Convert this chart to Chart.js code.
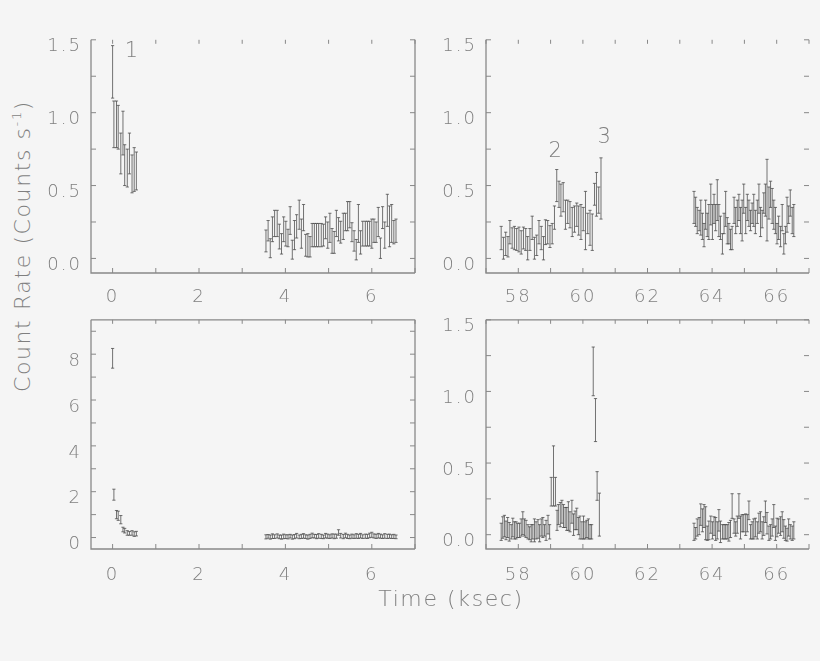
<!DOCTYPE html>
<html>
<head>
<meta charset="utf-8">
<script src="https://cdn.jsdelivr.net/npm/chart.js@4.4.1/dist/chart.umd.min.js"></script>
<style>
body{margin:0;background:#f5f5f5;width:820px;height:661px;overflow:hidden;position:relative;font-family:"DejaVu Sans",sans-serif;}
.panel{position:absolute}
.ttl{position:absolute;color:#7f7f7f;font-size:22px;font-weight:200;letter-spacing:1.6px;white-space:nowrap}
.ttl sup{font-size:13px}
</style>
</head>
<body>
<div class="panel" style="left:40px;top:20px;width:400px;height:290px"><canvas id="c1"></canvas></div>
<div class="panel" style="left:440px;top:20px;width:380px;height:290px"><canvas id="c2"></canvas></div>
<div class="panel" style="left:40px;top:300px;width:400px;height:290px"><canvas id="c3"></canvas></div>
<div class="panel" style="left:440px;top:300px;width:380px;height:290px"><canvas id="c4"></canvas></div>
<div class="ttl" style="left:22px;top:246px;transform:translate(-50%,-50%) rotate(-90deg)">Count Rate (Counts s<sup>-1</sup>)</div>
<div class="ttl" style="left:451px;top:598px;transform:translate(-50%,-50%)">Time (ksec)</div>
<script>
// tiempos (ksec)
var tEarly = [0.00, 0.03, 0.09, 0.13, 0.19, 0.24, 0.28, 0.34, 0.39, 0.45, 0.50, 0.55];
var tLate = [3.55, 3.60, 3.65, 3.70, 3.75, 3.81, 3.86, 3.91, 3.96, 4.01,
  4.06, 4.11, 4.16, 4.21, 4.26, 4.32, 4.37, 4.42, 4.47, 4.52,
  4.57, 4.62, 4.67, 4.72, 4.77, 4.83, 4.88, 4.93, 4.98, 5.03,
  5.08, 5.13, 5.18, 5.23, 5.28, 5.34, 5.39, 5.44, 5.49, 5.54,
  5.59, 5.64, 5.69, 5.74, 5.79, 5.85, 5.90, 5.95, 6.00, 6.05,
  6.10, 6.15, 6.20, 6.25, 6.30, 6.36, 6.41, 6.46, 6.51, 6.56];
var tTopC = [57.47, 57.54, 57.61, 57.68, 57.74, 57.81, 57.88, 57.95, 58.02, 58.09,
  58.16, 58.23, 58.29, 58.36, 58.43, 58.50, 58.57, 58.64, 58.71, 58.78,
  58.84, 58.91, 58.98, 59.05, 59.12, 59.19, 59.26, 59.32, 59.39, 59.46,
  59.53, 59.60, 59.67, 59.74, 59.81, 59.87, 59.94, 60.01, 60.08, 60.15,
  60.22, 60.29, 60.36, 60.42, 60.49, 60.56];
var tBotC = [57.47, 57.52, 57.57, 57.62, 57.67, 57.72, 57.78, 57.83, 57.88, 57.93,
  57.98, 58.04, 58.09, 58.14, 58.19, 58.24, 58.30, 58.35, 58.40, 58.45,
  58.50, 58.55, 58.61, 58.66, 58.71, 58.76, 58.81, 58.86, 58.92, 58.97,
  59.02, 59.09, 59.15, 59.20, 59.24, 59.30, 59.35, 59.40, 59.45, 59.50,
  59.55, 59.60, 59.66, 59.71, 59.76, 59.81, 59.86, 59.91, 59.97, 60.02,
  60.07, 60.12, 60.17, 60.22, 60.27, 60.32, 60.39, 60.44, 60.51];
var tD = [63.44, 63.49, 63.54, 63.60, 63.65, 63.70, 63.75, 63.80, 63.85, 63.90,
  63.96, 64.01, 64.06, 64.11, 64.16, 64.21, 64.26, 64.32, 64.37, 64.42,
  64.47, 64.52, 64.57, 64.62, 64.68, 64.73, 64.78, 64.83, 64.88, 64.93,
  64.98, 65.04, 65.09, 65.14, 65.19, 65.24, 65.29, 65.34, 65.40, 65.45,
  65.50, 65.55, 65.60, 65.65, 65.70, 65.76, 65.81, 65.86, 65.91, 65.96,
  66.01, 66.06, 66.12, 66.17, 66.22, 66.27, 66.32, 66.37, 66.42, 66.48, 66.53];

// marcas de los ejes
var xTicksIzq = [0, 2, 4, 6];
var xTicksDer = [58, 60, 62, 64, 66];
var yTicksRate = [0, 0.5, 1.0, 1.5];
var yTicksAlto = [0, 2, 4, 6, 8];

// panel superior
var rateTopEarly = [1.28, 0.92, 0.92, 0.90, 0.72, 0.86, 0.64, 0.62, 0.72, 0.58, 0.61, 0.60];
var errTopEarly = [0.18, 0.16, 0.16, 0.15, 0.14, 0.15, 0.14, 0.13, 0.14, 0.13, 0.15, 0.13];
var rateTopLate = [0.12, 0.19, 0.07, 0.20, 0.24, 0.24, 0.15, 0.10, 0.20, 0.17,
  0.14, 0.26, 0.06, 0.16, 0.22, 0.30, 0.17, 0.28, 0.09, 0.09,
  0.08, 0.16, 0.16, 0.16, 0.16, 0.16, 0.16, 0.21, 0.16, 0.21,
  0.12, 0.11, 0.24, 0.20, 0.18, 0.22, 0.25, 0.29, 0.30, 0.18,
  0.12, 0.06, 0.24, 0.11, 0.17, 0.17, 0.17, 0.17, 0.17, 0.19,
  0.18, 0.25, 0.07, 0.28, 0.16, 0.33, 0.22, 0.24, 0.18, 0.19];
var errTopLate = [0.075, 0.07, 0.065, 0.085, 0.09, 0.09, 0.085, 0.07, 0.085, 0.085,
  0.06, 0.095, 0.065, 0.10, 0.08, 0.10, 0.10, 0.09, 0.075, 0.08,
  0.07, 0.08, 0.08, 0.08, 0.08, 0.08, 0.075, 0.075, 0.09, 0.10,
  0.085, 0.075, 0.09, 0.08, 0.075, 0.09, 0.06, 0.10, 0.09, 0.065,
  0.07, 0.07, 0.13, 0.08, 0.085, 0.085, 0.085, 0.085, 0.10, 0.08,
  0.07, 0.10, 0.07, 0.075, 0.09, 0.11, 0.14, 0.13, 0.08, 0.08];
var rateTopC = [0.14, 0.07, 0.10, 0.08, 0.18, 0.14, 0.14, 0.13, 0.13, 0.11,
  0.14, 0.13, 0.07, 0.13, 0.21, 0.07, 0.09, 0.18, 0.14, 0.07,
  0.18, 0.18, 0.15, 0.17, 0.28, 0.50, 0.44, 0.40, 0.42, 0.30,
  0.32, 0.30, 0.25, 0.27, 0.30, 0.26, 0.25, 0.27, 0.26, 0.24,
  0.21, 0.18, 0.44, 0.44, 0.40, 0.48];
var errTopC = [0.08, 0.075, 0.08, 0.07, 0.08, 0.07, 0.08, 0.075, 0.085, 0.08,
  0.075, 0.075, 0.08, 0.075, 0.08, 0.075, 0.07, 0.08, 0.08, 0.08,
  0.085, 0.08, 0.075, 0.07, 0.08, 0.11, 0.09, 0.11, 0.10, 0.10,
  0.08, 0.09, 0.10, 0.09, 0.08, 0.10, 0.12, 0.08, 0.20, 0.07,
  0.12, 0.125, 0.075, 0.15, 0.09, 0.21];
var rateTopD = [0.35, 0.32, 0.26, 0.26, 0.28, 0.22, 0.16, 0.30, 0.23, 0.25,
  0.37, 0.25, 0.34, 0.28, 0.40, 0.26, 0.21, 0.10, 0.24, 0.34,
  0.19, 0.17, 0.13, 0.14, 0.33, 0.26, 0.31, 0.35, 0.26, 0.26,
  0.41, 0.26, 0.35, 0.31, 0.26, 0.31, 0.33, 0.25, 0.32, 0.41,
  0.25, 0.27, 0.38, 0.40, 0.40, 0.38, 0.44, 0.36, 0.30, 0.26,
  0.17, 0.21, 0.15, 0.28, 0.10, 0.16, 0.30, 0.30, 0.38, 0.26, 0.26];
var errTopD = [0.11, 0.10, 0.09, 0.07, 0.12, 0.09, 0.08, 0.10, 0.08, 0.12,
  0.14, 0.12, 0.10, 0.09, 0.14, 0.11, 0.08, 0.07, 0.07, 0.12,
  0.09, 0.07, 0.07, 0.08, 0.09, 0.09, 0.09, 0.09, 0.09, 0.14,
  0.10, 0.09, 0.09, 0.09, 0.07, 0.07, 0.11, 0.08, 0.08, 0.10,
  0.10, 0.06, 0.07, 0.11, 0.28, 0.11, 0.09, 0.12, 0.10, 0.09,
  0.07, 0.08, 0.07, 0.09, 0.07, 0.06, 0.12, 0.06, 0.09, 0.09, 0.11];

// panel inferior
var rateBotEarly = [7.82, 1.87, 1.00, 0.95, 0.78, 0.35, 0.30, 0.20, 0.18, 0.20, 0.15, 0.17];
var errBotEarly = [0.43, 0.24, 0.18, 0.20, 0.18, 0.10, 0.10, 0.10, 0.08, 0.10, 0.10, 0.10];
var rateBotLate = [0.03, 0.05, 0.02, 0.06, 0.04, 0.07, 0.03, 0.02, 0.05, 0.04,
  0.03, 0.06, 0.02, 0.04, 0.08, 0.03, 0.05, 0.07, 0.04, 0.02,
  0.05, 0.09, 0.06, 0.04, 0.07, 0.05, 0.03, 0.08, 0.06, 0.04,
  0.07, 0.05, 0.06, 0.22, 0.08, 0.04, 0.09, 0.05, 0.03, 0.06,
  0.04, 0.07, 0.05, 0.08, 0.04, 0.06, 0.05, 0.09, 0.12, 0.07,
  0.05, 0.08, 0.06, 0.04, 0.07, 0.05, 0.06, 0.04, 0.05, 0.03];
var errBotLate = [0.09, 0.08, 0.09, 0.10, 0.08, 0.09, 0.08, 0.09, 0.10, 0.08,
  0.09, 0.08, 0.09, 0.09, 0.10, 0.08, 0.09, 0.10, 0.08, 0.09,
  0.09, 0.10, 0.08, 0.09, 0.10, 0.09, 0.08, 0.10, 0.09, 0.08,
  0.09, 0.10, 0.09, 0.12, 0.10, 0.09, 0.10, 0.09, 0.08, 0.09,
  0.08, 0.10, 0.09, 0.10, 0.08, 0.09, 0.09, 0.10, 0.11, 0.09,
  0.09, 0.10, 0.09, 0.08, 0.10, 0.09, 0.09, 0.08, 0.09, 0.08];
var rateBotC = [0.02, 0.05, 0.06, 0.03, 0.05, 0.02, 0.02, 0.05, 0.03, 0.03,
  0.03, 0.03, 0.05, 0.08, 0.05, 0.04, 0.02, 0.01, 0.01, 0.02,
  0.03, 0.03, 0.04, 0.01, 0.05, 0.05, 0.03, 0.03, 0.07, 0.02,
  0.30, 0.41, 0.30, 0.10, 0.14, 0.14, 0.16, 0.13, 0.12, 0.11,
  0.13, 0.09, 0.16, 0.07, 0.10, 0.11, 0.06, 0.05, 0.03, 0.05,
  0.03, 0.04, 0.04, 0.02, 0.02, 1.14, 0.80, 0.34, 0.14];
var errBotC = [0.06, 0.075, 0.075, 0.065, 0.07, 0.065, 0.05, 0.065, 0.06, 0.06,
  0.05, 0.05, 0.06, 0.08, 0.06, 0.06, 0.05, 0.045, 0.06, 0.05,
  0.08, 0.06, 0.065, 0.06, 0.06, 0.07, 0.04, 0.07, 0.065, 0.05,
  0.10, 0.21, 0.10, 0.07, 0.07, 0.085, 0.08, 0.08, 0.07, 0.08,
  0.10, 0.07, 0.08, 0.075, 0.065, 0.075, 0.06, 0.08, 0.06, 0.08,
  0.06, 0.06, 0.07, 0.05, 0.05, 0.17, 0.15, 0.10, 0.15];
var rateBotD = [0.02, 0.01, 0.05, 0.06, 0.14, 0.10, 0.13, 0.08, 0.01, 0.03,
  0.07, 0.03, 0.06, 0.04, 0.03, 0.10, 0.02, 0.02, 0.02, 0.02,
  0.02, 0.02, 0.04, 0.20, 0.06, 0.04, 0.07, 0.20, 0.05, 0.08,
  0.08, 0.07, 0.08, 0.17, 0.02, 0.03, 0.04, 0.05, 0.03, 0.08,
  0.09, 0.03, 0.06, 0.16, 0.08, 0.01, 0.02, 0.05, 0.13, 0.01,
  0.05, 0.06, 0.06, 0.09, 0.04, 0.01, 0.00, 0.05, 0.02, 0.01, 0.03];
var errBotD = [0.06, 0.04, 0.06, 0.06, 0.075, 0.08, 0.08, 0.115, 0.05, 0.065,
  0.06, 0.06, 0.065, 0.08, 0.06, 0.075, 0.075, 0.05, 0.05, 0.05,
  0.05, 0.065, 0.06, 0.086, 0.05, 0.05, 0.06, 0.086, 0.08, 0.06,
  0.06, 0.075, 0.06, 0.065, 0.05, 0.06, 0.07, 0.065, 0.06, 0.07,
  0.07, 0.06, 0.065, 0.075, 0.075, 0.05, 0.05, 0.06, 0.08, 0.05,
  0.065, 0.05, 0.065, 0.07, 0.065, 0.05, 0.045, 0.06, 0.05, 0.05, 0.06];

// etiquetas de las fulguraciones
var flareLabels = ['1', '2', '3'];
var flareT = [0.46, 59.17, 60.69];
var flareRate = [1.42, 0.735, 0.826];

var grisEje = '#888888';
var grisTexto = '#7f7f7f';
var fuenteTicks = {family: 'DejaVu Sans', size: 18, weight: '200'};

var errorBars = {
  id: 'errorBars',
  afterDatasetsDraw: function(chart){
    var ctx = chart.ctx, a = chart.chartArea, x = chart.scales.x, y = chart.scales.y;
    ctx.save();
    ctx.beginPath();
    ctx.rect(a.left, a.top, a.right - a.left, a.bottom - a.top);
    ctx.clip();
    ctx.strokeStyle = 'rgba(70,70,70,0.75)';
    ctx.lineWidth = 1;
    chart.data.datasets.forEach(function(ds){
      ds.data.forEach(function(p, i){
        var px = x.getPixelForValue(p.x);
        var hi = y.getPixelForValue(p.y + ds.errs[i]);
        var lo = y.getPixelForValue(p.y - ds.errs[i]);
        ctx.beginPath();
        ctx.moveTo(px, lo); ctx.lineTo(px, hi);
        ctx.moveTo(px - 1.6, lo); ctx.lineTo(px + 1.6, lo);
        ctx.moveTo(px - 1.6, hi); ctx.lineTo(px + 1.6, hi);
        ctx.stroke();
      });
    });
    ctx.restore();
  }
};

var frame = {
  id: 'frame',
  beforeDraw: function(chart){
    chart.ctx.letterSpacing = '2px';
  },
  afterDraw: function(chart, args, o){
    var ctx = chart.ctx, a = chart.chartArea, x = chart.scales.x, y = chart.scales.y;
    ctx.save();
    ctx.strokeStyle = grisEje;
    ctx.lineWidth = 1.3;
    ctx.beginPath();
    ctx.moveTo(a.left, a.top); ctx.lineTo(a.left, a.bottom); ctx.lineTo(a.right, a.bottom);
    if (o.right) { ctx.moveTo(a.right, a.bottom); ctx.lineTo(a.right, a.top); }
    if (o.top) { ctx.moveTo(a.left, a.top); ctx.lineTo(a.right, a.top); }
    ctx.stroke();
    ctx.lineWidth = 1;
    ctx.beginPath();
    var v, p;
    for (v = Math.ceil(x.min / o.minorX) * o.minorX; v <= x.max + 1e-9; v += o.minorX) {
      p = x.getPixelForValue(v);
      ctx.moveTo(p, a.bottom); ctx.lineTo(p, a.bottom - 5);
      ctx.moveTo(p, a.top); ctx.lineTo(p, a.top + 4);
    }
    for (v = Math.ceil(y.min / o.minorY) * o.minorY; v <= y.max + 1e-9; v += o.minorY) {
      p = y.getPixelForValue(v);
      ctx.moveTo(a.left, p); ctx.lineTo(a.left + 5, p);
      ctx.moveTo(a.right, p); ctx.lineTo(a.right - 5, p);
    }
    ctx.stroke();
    ctx.fillStyle = grisTexto;
    ctx.font = '200 21px "DejaVu Sans"';
    ctx.textAlign = 'center';
    ctx.textBaseline = 'middle';
    for (var i = 0; i < flareLabels.length; i++) {
      if (flareT[i] < x.min || flareT[i] > x.max || !o.labels) continue;
      ctx.fillText(flareLabels[i], x.getPixelForValue(flareT[i]), y.getPixelForValue(flareRate[i]));
    }
    ctx.restore();
  }
};

function serie(t, r, e){
  return {
    data: t.map(function(v, i){ return {x: v, y: r[i]}; }),
    errs: e,
    pointRadius: 0,
    showLine: false
  };
}

function panel(id, series, xr, yr, xTicks, yTicks, decimals, minorY, caja){
  new Chart(document.getElementById(id), {
    type: 'scatter',
    data: {datasets: series},
    plugins: [errorBars, frame],
    options: {
      responsive: true,
      maintainAspectRatio: false,
      animation: false,
      layout: {padding: {top: caja.top, right: caja.right, left: 0, bottom: 0}},
      plugins: {
        legend: {display: false},
        tooltip: {enabled: false},
        frame: {right: caja.boxRight, top: caja.boxTop, minorX: 1, minorY: minorY, labels: caja.labels}
      },
      scales: {
        x: {
          type: 'linear', min: xr[0], max: xr[1],
          grid: {display: false, drawTicks: false},
          border: {display: false},
          ticks: {autoSkip: false, maxRotation: 0, padding: caja.xPad, color: grisTexto, font: fuenteTicks},
          afterBuildTicks: function(s){ s.ticks = xTicks.map(function(v){ return {value: v}; }); },
          afterFit: function(s){ s.height = caja.xH; }
        },
        y: {
          type: 'linear', min: yr[0], max: yr[1],
          grid: {display: false, drawTicks: false},
          border: {display: false},
          ticks: {autoSkip: false, padding: 9, labelOffset: 7, color: grisTexto, font: fuenteTicks,
            callback: function(v){ return v.toFixed(decimals); }},
          afterBuildTicks: function(s){ s.ticks = yTicks.map(function(v){ return {value: v}; }); },
          afterFit: function(s){ s.width = caja.yW; }
        }
      }
    }
  });
}

panel('c1', [serie(tEarly, rateTopEarly, errTopEarly), serie(tLate, rateTopLate, errTopLate)],
  [-0.5, 7.0], [-0.1, 1.5], xTicksIzq, yTicksRate, 1, 0.25,
  {top: 19, right: 25, xH: 37, yW: 51, xPad: 14, boxRight: true, boxTop: false, labels: true});
panel('c2', [serie(tTopC, rateTopC, errTopC), serie(tD, rateTopD, errTopD)],
  [57, 67], [-0.1, 1.5], xTicksDer, yTicksRate, 1, 0.25,
  {top: 19, right: 11, xH: 37, yW: 46, xPad: 14, boxRight: false, boxTop: false, labels: true});
panel('c3', [serie(tEarly, rateBotEarly, errBotEarly), serie(tLate, rateBotLate, errBotLate)],
  [-0.5, 7.0], [-0.5, 9.5], xTicksIzq, yTicksAlto, 0, 1,
  {top: 16, right: 25, xH: 41, yW: 51, xPad: 16, boxRight: true, boxTop: true, labels: false});
panel('c4', [serie(tBotC, rateBotC, errBotC), serie(tD, rateBotD, errBotD)],
  [57, 67], [-0.1, 1.5], xTicksDer, yTicksRate, 1, 0.25,
  {top: 16, right: 11, xH: 41, yW: 46, xPad: 16, boxRight: false, boxTop: true, labels: false});
</script>
</body>
</html>
